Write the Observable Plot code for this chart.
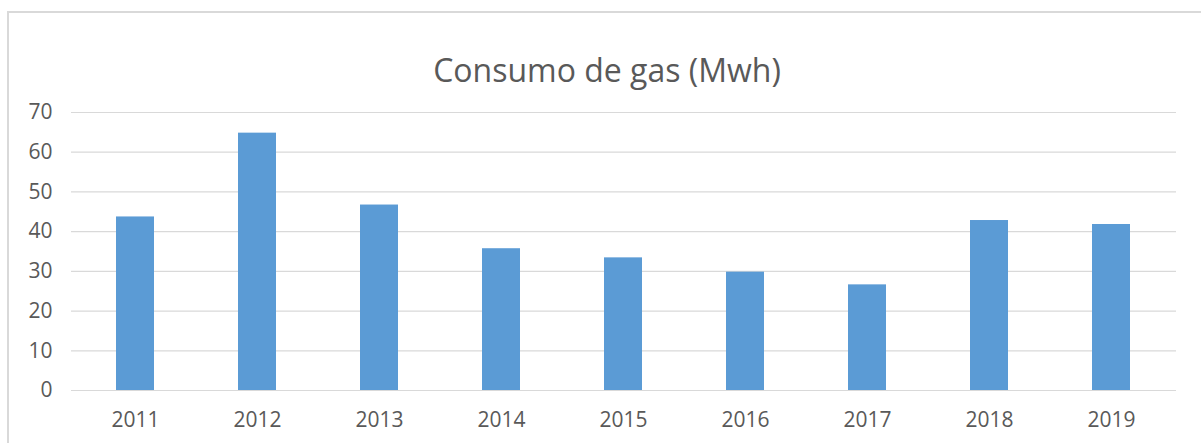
<!DOCTYPE html>
<html>
<head>
<meta charset="utf-8">
<script src="https://cdn.jsdelivr.net/npm/d3@7"></script>
<script src="https://cdn.jsdelivr.net/npm/@observablehq/plot@0.6"></script>
<style>
  html, body { margin: 0; padding: 0; background: #fff; overflow: hidden; }
  #wrap { position: relative; width: 1201px; height: 443px; }
  #border { position: absolute; left: 7px; top: 11px; width: 1300px; height: 600px;
            border-top: 2px solid #d9d9d9; border-left: 2px solid #d9d9d9; pointer-events: none; }
  #chart { position: absolute; left: 0; top: 0; }
</style>
</head>
<body>
<div id="wrap"><div id="chart"></div><div id="border"></div></div>
<script>
const title = "Consumo de gas (Mwh)";
const years = ["2011", "2012", "2013", "2014", "2015", "2016", "2017", "2018", "2019"];
const values = [43.7, 64.8, 46.7, 35.7, 33.4, 29.8, 26.6, 42.8, 41.8];
const yTicks = [0, 10, 20, 30, 40, 50, 60, 70];

const data = years.map((year, i) => ({year, value: values[i]}));

const chart = Plot.plot({
  width: 1201,
  height: 443,
  marginLeft: 71,
  marginRight: 25,
  marginTop: 112,
  marginBottom: 53,
  style: {fontFamily: "'Open Sans', sans-serif", fontSize: "21px", color: "#595959", background: "transparent"},
  x: {domain: years, paddingInner: 0.685, paddingOuter: 0.3425, label: null},
  y: {domain: [0, 70], ticks: yTicks, label: null},
  marks: [
    Plot.ruleY(yTicks, {stroke: "#d9d9d9", strokeWidth: 1.2}),
    Plot.barY(data, {x: "year", y: "value", fill: "#5b9bd5"}),
    Plot.axisY({ticks: yTicks, tickSize: 0, tickPadding: 19, fontSize: 21, fill: "#595959", label: null}),
    Plot.axisX({tickSize: 0, tickPadding: 22, fontSize: 21, fill: "#595959", label: null}),
    Plot.text([title], {frameAnchor: "top", dy: -53, dx: -17, fontSize: 32, fill: "#595959", text: d => d})
  ]
});
document.getElementById("chart").appendChild(chart);
</script>
</body>
</html>
